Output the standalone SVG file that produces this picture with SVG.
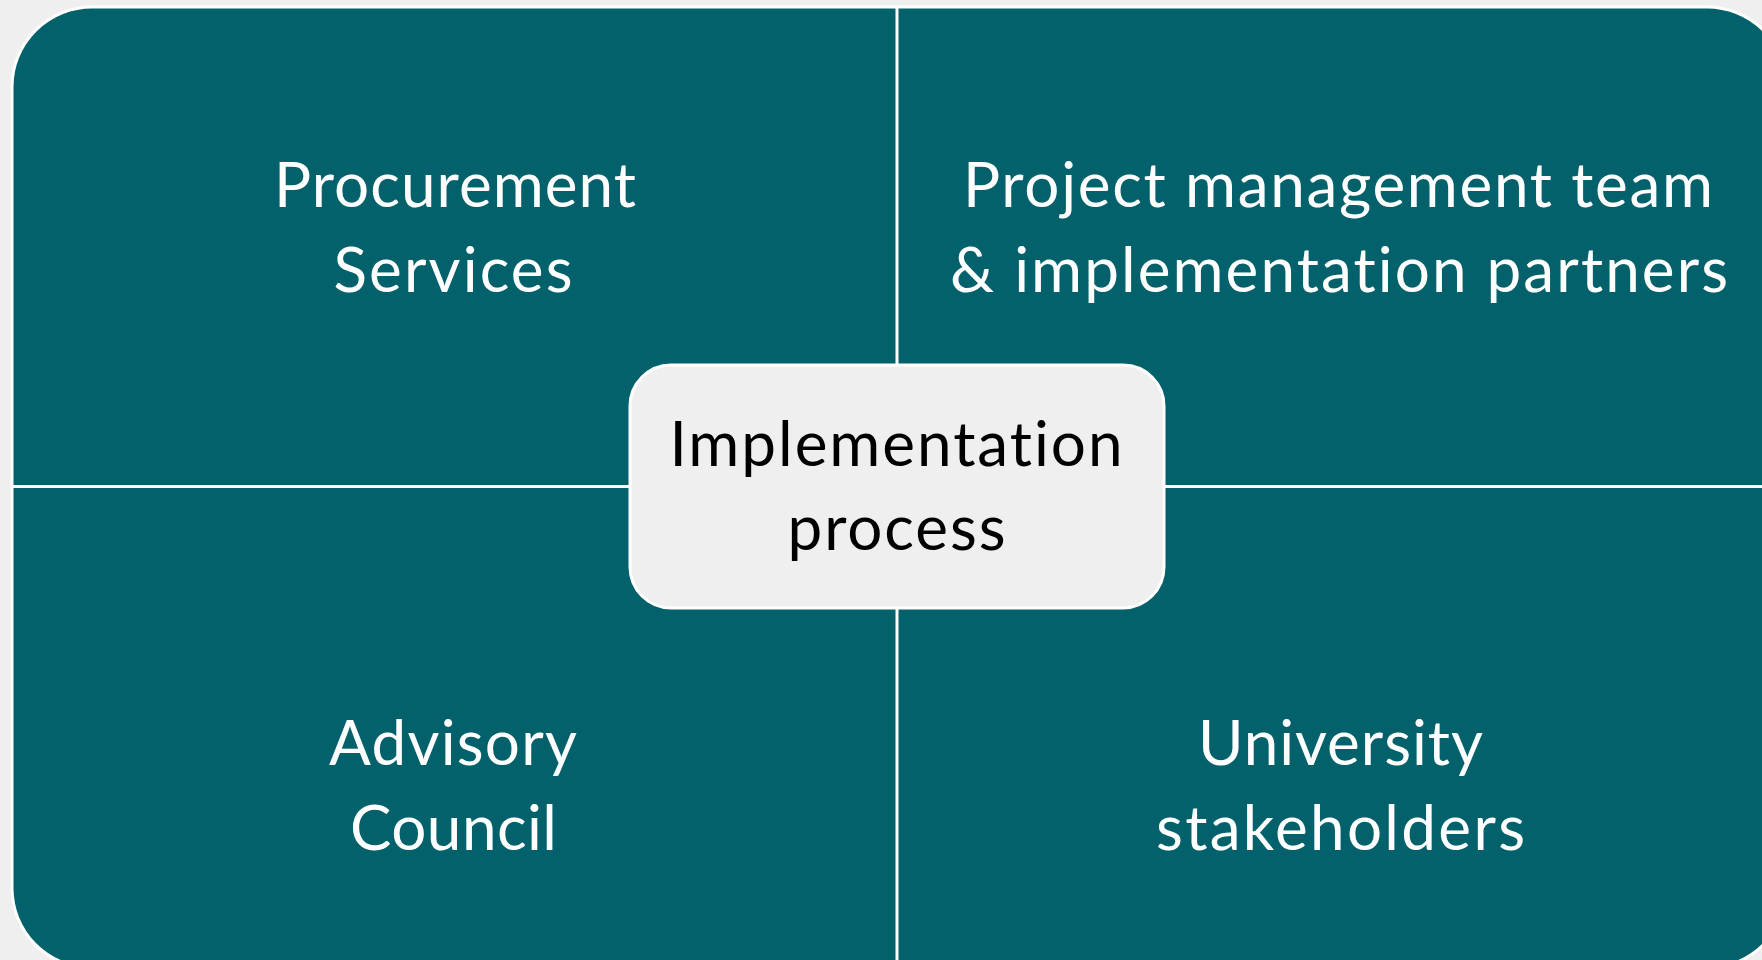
<svg xmlns="http://www.w3.org/2000/svg" width="1762" height="960" viewBox="0 0 1762 960">
  <style>
    .quad { fill: #02616b; stroke: #ffffff; stroke-width: 3; }
    .divider { stroke: #ffffff; stroke-width: 3; fill: none; }
    .hub { fill: #efefef; stroke: #ffffff; stroke-width: 3; }
    .label { font-family: "Lato", "Liberation Sans", sans-serif; font-size: 62px; text-anchor: middle;
             font-variant-ligatures: none; font-feature-settings: "liga" 0, "clig" 0; }
    .light { fill: #ffffff; }
    .dark { fill: #000000; }
  </style>

  <!-- page background -->
  <rect x="0" y="0" width="1762" height="960" fill="#efefef"/>

  <!-- outer rounded panel, split into four quadrants -->
  <g id="panel">
    <rect class="quad" x="12" y="7" width="1775" height="961" rx="80" ry="80"/>
  </g>

  <g id="dividers">
    <line class="divider" x1="897" y1="7" x2="897" y2="968"/>
    <line class="divider" x1="12" y1="486.5" x2="1787" y2="486.5"/>
  </g>

  <g id="procurement-services">
    <text class="label light" x="455" y="207" textLength="362" lengthAdjust="spacing">Procurement</text>
    <text class="label light" x="453" y="292" textLength="239" lengthAdjust="spacing">Services</text>
  </g>

  <g id="project-management">
    <text class="label light" x="1338" y="207" textLength="750" lengthAdjust="spacing">Project management team</text>
    <text class="label light" x="1339" y="292" textLength="778" lengthAdjust="spacing">&amp; implementation partners</text>
  </g>

  <g id="advisory-council">
    <text class="label light" x="453" y="765" textLength="248" lengthAdjust="spacing">Advisory</text>
    <text class="label light" x="453.5" y="850" textLength="207" lengthAdjust="spacing">Council</text>
  </g>

  <g id="university-stakeholders">
    <text class="label light" x="1340.5" y="765" textLength="285" lengthAdjust="spacing">University</text>
    <text class="label light" x="1340.5" y="850" textLength="369" lengthAdjust="spacing">stakeholders</text>
  </g>

  <g id="implementation-process">
    <rect class="hub" x="630" y="365" width="534" height="243" rx="41" ry="41"/>
    <text class="label dark" x="896" y="466" textLength="453" lengthAdjust="spacing">Implementation</text>
    <text class="label dark" x="896.5" y="550" textLength="218" lengthAdjust="spacing">process</text>
  </g>
</svg>
